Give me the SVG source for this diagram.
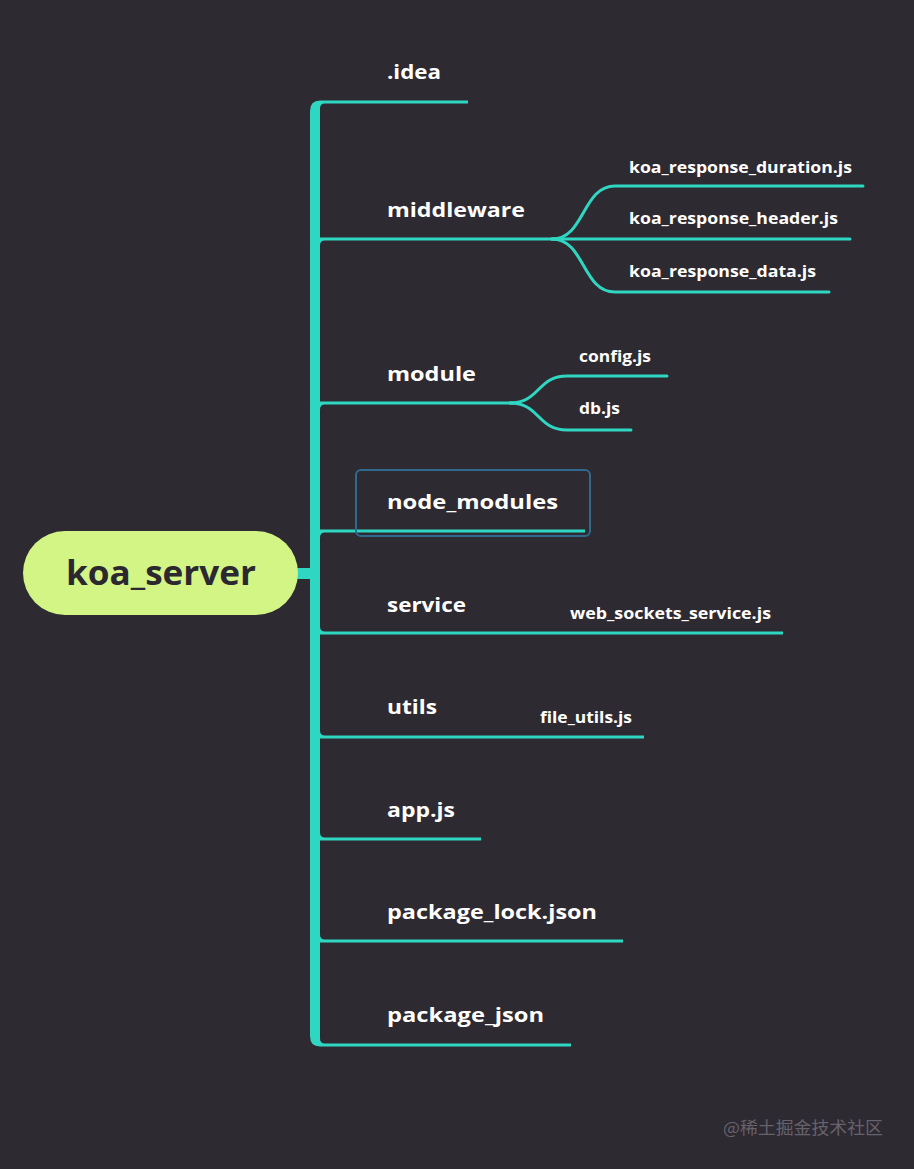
<svg xmlns="http://www.w3.org/2000/svg" width="914" height="1169" viewBox="0 0 914 1169">
<style>
.bg{fill:#2e2a32}
.br{fill:#2fd6c2}
.ln{fill:none;stroke:#2fd6c2;stroke-width:3;stroke-linecap:round}
.t1{font-family:"Open Sans","Liberation Sans",sans-serif;font-weight:700;font-size:20px;fill:#ffffff}
.t2{font-family:"Open Sans","Liberation Sans",sans-serif;font-weight:700;font-size:16px;fill:#ffffff}
</style>
<rect class="bg" x="0" y="0" width="914" height="1169"/>
<g id="connectors">
  <rect class="br" x="296" y="568" width="18" height="11"/>
  <!-- upward branches -->
  <path class="br" d="M310,573 L310,111 Q310,100.5 320,100.5 L468,100.5 L468,103.5 L325,103.5 Q320,103.5 320,108.5 L320,573 Z"/>
  <path class="br" d="M310,573 L310,248 Q310,237.5 320,237.5 L556,237.5 L556,240.5 L325,240.5 Q320,240.5 320,245.5 L320,573 Z"/>
  <path class="br" d="M310,573 L310,412 Q310,401.5 320,401.5 L514,401.5 L514,404.5 L325,404.5 Q320,404.5 320,409.5 L320,573 Z"/>
  <path class="br" d="M310,573 L310,540 Q310,529.5 320,529.5 L585,529.5 L585,532.5 L325,532.5 Q320,532.5 320,537.5 L320,573 Z"/>
  <!-- downward branches -->
  <path class="br" d="M310,573 L310,624 Q310,634.5 320,634.5 L783,634.5 L783,631.5 L325,631.5 Q320,631.5 320,626.5 L320,573 Z"/>
  <path class="br" d="M310,573 L310,728 Q310,738.5 320,738.5 L644,738.5 L644,735.5 L325,735.5 Q320,735.5 320,730.5 L320,573 Z"/>
  <path class="br" d="M310,573 L310,830 Q310,840.5 320,840.5 L481,840.5 L481,837.5 L325,837.5 Q320,837.5 320,832.5 L320,573 Z"/>
  <path class="br" d="M310,573 L310,932 Q310,942.5 320,942.5 L623,942.5 L623,939.5 L325,939.5 Q320,939.5 320,934.5 L320,573 Z"/>
  <path class="br" d="M310,573 L310,1036 Q310,1046.5 320,1046.5 L571,1046.5 L571,1043.5 L325,1043.5 Q320,1043.5 320,1038.5 L320,573 Z"/>
  <!-- middleware children -->
  <path class="ln" d="M552,239 C585,239 582,186 615,186 L863,186"/>
  <path class="ln" d="M552,239 L850,239"/>
  <path class="ln" d="M552,239 C585,239 582,292 615,292 L829,292"/>
  <!-- module children -->
  <path class="ln" d="M510,403 C540,403 537,376 567,376 L667,376"/>
  <path class="ln" d="M510,403 C540,403 537,430 567,430 L631,430"/>
</g>
<g id="root">
  <rect x="23" y="531" width="275" height="84" rx="42" fill="#d3f585"/>
  <text x="161" y="585" text-anchor="middle" font-family="'Open Sans','Liberation Sans',sans-serif" font-weight="700" font-size="34" fill="#2c2830" textLength="190" lengthAdjust="spacingAndGlyphs">koa_server</text>
</g>
<g id="idea"><text class="t1" x="387" y="79" textLength="54" lengthAdjust="spacingAndGlyphs">.idea</text></g>
<g id="middleware"><text class="t1" x="387" y="217" textLength="138" lengthAdjust="spacingAndGlyphs">middleware</text></g>
<g id="koa_response_duration"><text class="t2" x="629" y="173" textLength="223" lengthAdjust="spacingAndGlyphs">koa_response_duration.js</text></g>
<g id="koa_response_header"><text class="t2" x="629" y="224" textLength="209" lengthAdjust="spacingAndGlyphs">koa_response_header.js</text></g>
<g id="koa_response_data"><text class="t2" x="629" y="277" textLength="187" lengthAdjust="spacingAndGlyphs">koa_response_data.js</text></g>
<g id="module"><text class="t1" x="387" y="381" textLength="89" lengthAdjust="spacingAndGlyphs">module</text></g>
<g id="config"><text class="t2" x="579" y="362" textLength="72" lengthAdjust="spacingAndGlyphs">config.js</text></g>
<g id="db"><text class="t2" x="579" y="414" textLength="41" lengthAdjust="spacingAndGlyphs">db.js</text></g>
<g id="node_modules">
  <rect x="356" y="470" width="234" height="66" rx="5" fill="none" stroke="#2f6a8e" stroke-width="2"/>
  <text class="t1" x="387" y="509" textLength="171" lengthAdjust="spacingAndGlyphs">node_modules</text>
</g>
<g id="service"><text class="t1" x="387" y="612" textLength="79" lengthAdjust="spacingAndGlyphs">service</text></g>
<g id="web_sockets_service"><text class="t2" x="570" y="619" textLength="201" lengthAdjust="spacingAndGlyphs">web_sockets_service.js</text></g>
<g id="utils"><text class="t1" x="387" y="714" textLength="50" lengthAdjust="spacingAndGlyphs">utils</text></g>
<g id="file_utils"><text class="t2" x="540" y="723" textLength="92" lengthAdjust="spacingAndGlyphs">file_utils.js</text></g>
<g id="app"><text class="t1" x="387" y="817" textLength="68" lengthAdjust="spacingAndGlyphs">app.js</text></g>
<g id="package_lock"><text class="t1" x="387" y="919" textLength="210" lengthAdjust="spacingAndGlyphs">package_lock.json</text></g>
<g id="package_json"><text class="t1" x="387" y="1022" textLength="157" lengthAdjust="spacingAndGlyphs">package_json</text></g>
<text x="723" y="1134" font-family="'Noto Sans CJK SC',sans-serif" font-size="17" fill="#66626c" textLength="160" lengthAdjust="spacingAndGlyphs">@稀土掘金技术社区</text>
</svg>
